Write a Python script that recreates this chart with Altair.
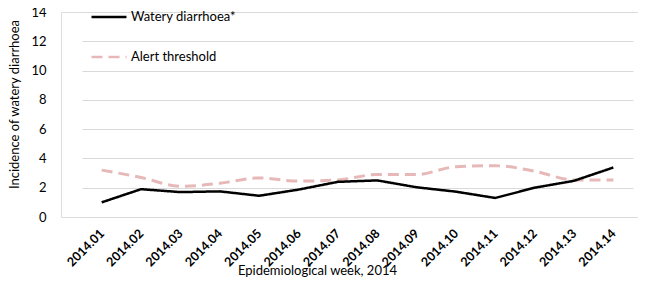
import altair as alt
import pandas as pd

weeks = ["2014.01", "2014.02", "2014.03", "2014.04", "2014.05", "2014.06", "2014.07",
         "2014.08", "2014.09", "2014.10", "2014.11", "2014.12", "2014.13", "2014.14"]
watery = [1.0, 1.9, 1.7, 1.75, 1.45, 1.87, 2.4, 2.5, 2.03, 1.73, 1.3, 2.0, 2.47, 3.38]
alert = [3.2, 2.7, 2.1, 2.3, 2.67, 2.45, 2.53, 2.9, 2.9, 3.43, 3.5, 3.13, 2.53, 2.53]
series = ["Watery diarrhoea*", "Alert threshold"]

rows = []
for w, a in zip(weeks, alert):
    rows.append({"week": w, "value": a, "series": series[1]})
for w, v in zip(weeks, watery):
    rows.append({"week": w, "value": v, "series": series[0]})
df = pd.DataFrame(rows)

FONT = "Lato"

x = alt.X("week:N", sort=weeks,
          scale=alt.Scale(type="point", range=[21, 572]),
          axis=alt.Axis(title="Epidemiological week, 2014", labelAngle=-45,
                        labelAlign="right", labelBaseline="middle",
                        labelFontWeight="bold", labelFontSize=12.5, labelPadding=14,
                        labelColor="#000", titleColor="#000",
                        titleFontWeight="normal", titleFontSize=13,
                        titleX=256, titleY=53, titleBaseline="middle",
                        titleAlign="center",
                        ticks=False, domain=False, grid=False))
y = alt.Y("value:Q", scale=alt.Scale(domain=[0, 14], nice=False),
          axis=alt.Axis(title="Incidence of watery diarrhoea", values=list(range(0, 15, 2)),
                        labelFontSize=13, labelColor="#000",
                        titleColor="#000", titleFontWeight="normal", titleFontSize=13,
                        titleX=-47, titleY=92, titleBaseline="middle", titleAngle=-90,
                        ticks=False, domain=False,
                        gridColor="#D9D9D9", gridWidth=1, labelPadding=15))

color = alt.Color("series:N", sort=series,
                  scale=alt.Scale(domain=series, range=["#000000", "#E6B9B8"]),
                  legend=alt.Legend(title=None, orient="none", legendX=29, legendY=-14,
                                    symbolType="stroke", symbolSize=1225,
                                    symbolStrokeWidth=2.5, labelFontSize=13,
                                    labelColor="#000", labelOffset=3, rowPadding=14,
                                    labelFont=FONT))
dash = alt.StrokeDash("series:N", sort=series,
                      scale=alt.Scale(domain=series, range=[[1, 0], [11, 6]]),
                      legend=None)

alert_line = alt.Chart(df).transform_filter(
    alt.datum.series == series[1]
).mark_line(strokeWidth=3, interpolate="monotone").encode(x=x, y=y, color=color, strokeDash=dash)

wat_line = alt.Chart(df).transform_filter(
    alt.datum.series == series[0]
).mark_line(strokeWidth=2.5).encode(x=x, y=y, color=color, strokeDash=dash)

chart = alt.layer(alert_line, wat_line).properties(
    width=577, height=205,
    autosize=alt.AutoSizeParams(type="none"),
    padding={"left": 53, "top": 4, "right": 0, "bottom": 60},
).configure_view(stroke=None).configure(font=FONT)

chart.save("out.html", embed_options={"renderer": "svg", "actions": False})
